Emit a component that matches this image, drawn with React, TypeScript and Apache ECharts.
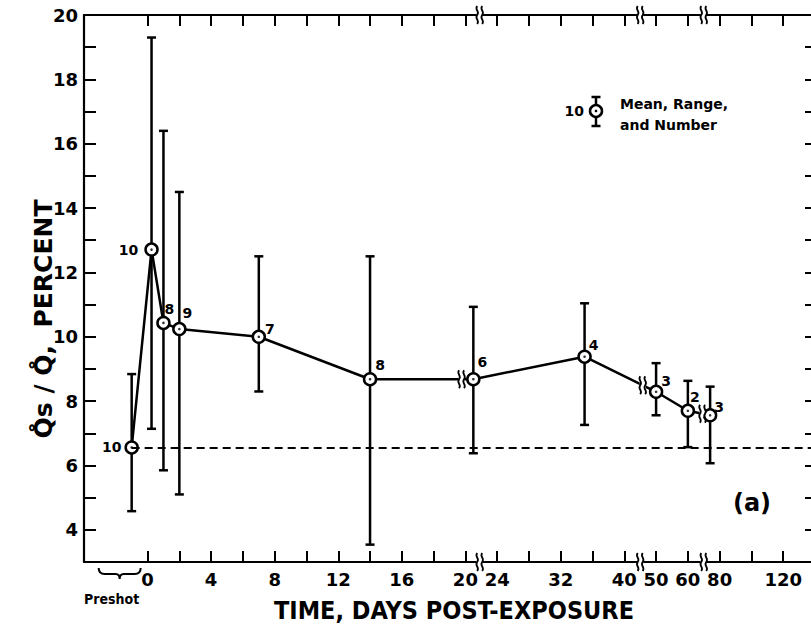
import React, { useEffect, useRef } from "react";
import * as echarts from "echarts";

// ---- data ----
const days = [-1, 0.25, 1, 2, 7, 14, 21, 35, 50, 60, 74];
const means = [6.56, 12.71, 10.43, 10.24, 10.0, 8.68, 8.68, 9.38, 8.29, 7.7, 7.56];
const maxs = [8.84, 19.3, 16.4, 14.5, 12.5, 12.5, 10.93, 11.04, 9.18, 8.63, 8.45];
const mins = [4.58, 7.14, 5.85, 5.1, 8.3, 3.54, 6.38, 7.26, 7.56, 6.57, 6.07];
const counts = [10, 10, 8, 9, 7, 8, 6, 4, 3, 2, 3];

// broken time axis: day knots and their positions in "slots"
const DAY_KNOTS = [0, 20, 24, 40, 50, 60, 80, 120];
const SLOT_KNOTS = [0, 10, 11, 15, 16, 17, 18, 20];
const TICK_DAYS = [0, 2, 4, 6, 8, 10, 12, 14, 16, 18, 20, 24, 28, 32, 36, 40, 50, 60, 80, 100, 120];
const LABEL_DAYS = [0, 4, 8, 12, 16, 20, 24, 32, 40, 50, 60, 80, 120];
const Y_TICKS = [4, 5, 6, 7, 8, 9, 10, 11, 12, 13, 14, 15, 16, 17, 18, 19, 20];
const Y_LABELS = [4, 6, 8, 10, 12, 14, 16, 18, 20];

// label styling per point (offsets only)
const LABEL_OFFSETS: number[][] = [[0, 0], [0, 0], [6, 0], [8, -2], [11, 6], [10, 0], [9, -3], [9, 3], [10, 3], [7, 0], [9, 6]];

const X_MIN = -2;
const X_MAX = 21;
const Y_MIN = 3;
const Y_MAX = 20;

const AXIS_BREAK_SLOTS = [10.45, 15.5, 17.5];
const LINE_BREAK_SLOTS = [9.88, 15.58, 17.46];

function toSlot(d: number): number {
  if (d <= 0) return d * 0.5;
  for (let i = 1; i < DAY_KNOTS.length; i++) {
    if (d <= DAY_KNOTS[i]) {
      const t = (d - DAY_KNOTS[i - 1]) / (DAY_KNOTS[i] - DAY_KNOTS[i - 1]);
      return SLOT_KNOTS[i - 1] + t * (SLOT_KNOTS[i] - SLOT_KNOTS[i - 1]);
    }
  }
  const n = DAY_KNOTS.length - 1;
  const k = (SLOT_KNOTS[n] - SLOT_KNOTS[n - 1]) / (DAY_KNOTS[n] - DAY_KNOTS[n - 1]);
  return SLOT_KNOTS[n] + (d - DAY_KNOTS[n]) * k;
}

const FONT = "'DejaVu Sans', sans-serif";
const FONT_C = "'DejaVu Sans Condensed', 'DejaVu Sans', sans-serif";

const BRK_PATH = "M2,0 C-1,4 5,5 2,9 C-1,13 5,14 2,18 M7,0 C4,4 10,5 7,9 C4,13 10,14 7,18";
const BRACE_PATH = "M0,0 Q0,6 6,6 L17,6 Q21,6 21,11 Q21,6 25,6 L36,6 Q42,6 42,0";

export default function App() {
  const ref = useRef<HTMLDivElement>(null);
  useEffect(() => {
    const el = ref.current;
    if (!el) return;
    echarts.graphic.registerShape("brk", echarts.graphic.extendPath(BRK_PATH, {}));
    echarts.graphic.registerShape("brace", echarts.graphic.extendPath(BRACE_PATH, {}));
    const chart = echarts.init(el, null, { renderer: "svg" });

    const slots = days.map(toSlot);
    const tickSlots = TICK_DAYS.map(toSlot);
    const labelSlots = LABEL_DAYS.map(toSlot);
    const fmtX = (v: number) => {
      const i = labelSlots.findIndex((s) => Math.abs(s - v) < 1e-6);
      return i >= 0 ? String(LABEL_DAYS[i]) : "";
    };

    const axisLine = { show: true, onZero: false, lineStyle: { color: "#000", width: 2.2 } };
    const tickStyle = { color: "#000", width: 2 };

    const option: any = {
      animation: false,
      backgroundColor: "#fff",
      grid: { left: 84, right: 5, top: 15, bottom: 70, containLabel: false },
      xAxis: [
        {
          type: "value", min: X_MIN, max: X_MAX, position: "bottom",
          axisLine,
          axisTick: { show: true, inside: true, length: 11, customValues: tickSlots, lineStyle: tickStyle },
          axisLabel: {
            show: true, customValues: labelSlots, formatter: fmtX, margin: 8,
            color: "#000", fontFamily: FONT, fontWeight: "bold", fontSize: 18,
          },
          splitLine: { show: false },
        },
        {
          type: "value", min: X_MIN, max: X_MAX, position: "top",
          axisLine,
          axisTick: { show: true, inside: true, length: 11, customValues: tickSlots, lineStyle: tickStyle },
          axisLabel: { show: false },
          splitLine: { show: false },
        },
      ],
      yAxis: [
        {
          type: "value", min: Y_MIN, max: Y_MAX, position: "left",
          axisLine,
          axisTick: { show: true, inside: true, length: 12, customValues: Y_TICKS, lineStyle: tickStyle },
          axisLabel: {
            show: true, customValues: Y_LABELS, margin: 6,
            color: "#000", fontFamily: FONT, fontWeight: "bold", fontSize: 18,
          },
          splitLine: { show: false },
        },
        {
          type: "value", min: Y_MIN, max: Y_MAX, position: "right",
          axisLine,
          axisTick: { show: true, inside: true, length: 10, customValues: Y_TICKS, lineStyle: tickStyle },
          axisLabel: { show: false },
          splitLine: { show: false },
        },
      ],
      series: [
        {
          type: "custom",
          z: 1,
          data: days.map((_, i) => [slots[i], mins[i], maxs[i]]),
          encode: { x: 0, y: [1, 2] },
          renderItem: (params: any, api: any) => {
            const x = api.value(0);
            const lo = api.coord([x, api.value(1)]);
            const hi = api.coord([x, api.value(2)]);
            const c = 4.5;
            const st = { stroke: "#000", lineWidth: 2.5 };
            return {
              type: "group",
              children: [
                { type: "line", shape: { x1: lo[0], y1: lo[1], x2: hi[0], y2: hi[1] }, style: st },
                { type: "line", shape: { x1: lo[0] - c, y1: lo[1], x2: lo[0] + c, y2: lo[1] }, style: st },
                { type: "line", shape: { x1: hi[0] - c, y1: hi[1], x2: hi[0] + c, y2: hi[1] }, style: st },
              ],
            };
          },
        },
        {
          type: "line",
          z: 2,
          symbol: "none",
          data: days.map((_, i) => [slots[i], means[i]]),
          lineStyle: { color: "#000", width: 2.5 },
          markLine: {
            silent: true,
            symbol: ["none", "none"],
            label: { show: false },
            lineStyle: { color: "#000", width: 2, type: [8, 5] },
            data: [[{ coord: [slots[0], means[0]] }, { coord: [X_MAX, means[0]] }]],
          },
        },
        {
          type: "scatter",
          z: 3,
          symbol: "circle",
          symbolSize: 12,
          itemStyle: { color: "#fff", borderColor: "#000", borderWidth: 2.5, opacity: 1 },
          data: days.map((_, i) => ({
            value: [slots[i], means[i]],
            label: i < 2
              ? { show: true, position: "left", distance: i === 0 ? 3 : 6 }
              : { show: true, position: "top", distance: 0, offset: LABEL_OFFSETS[i] },
          })),
          label: {
            show: true,
            formatter: (p: any) => String(counts[p.dataIndex]),
            color: "#000", fontFamily: FONT, fontWeight: "bold", fontSize: 14,
          },
        },
        {
          type: "scatter",
          z: 4,
          symbol: "circle",
          symbolSize: 2.6,
          itemStyle: { color: "#000" },
          data: days.map((_, i) => [slots[i], means[i]]),
        },
      ],
    };
    chart.setOption(option);

    const px = (s: number, v: number) => chart.convertToPixel({ gridIndex: 0 }, [s, v]) as number[];
    const yTop = px(0, Y_MAX)[1];
    const yBot = px(0, Y_MIN)[1];
    const graphics: any[] = [];
    const brk = (x: number, y: number) => {
      graphics.push({ type: "rect", z: 100, shape: { x: x - 3, y: y - 3, width: 6, height: 6 }, style: { fill: "#fff" } });
      graphics.push({ type: "brk", z: 101, x: x - 4.5, y: y - 9, style: { stroke: "#000", fill: "none", lineWidth: 1.8 } });
    };
    AXIS_BREAK_SLOTS.forEach((s) => {
      const x = px(s, Y_MAX)[0];
      brk(x, yTop);
      brk(x, yBot);
    });
    const interp = (s: number) => {
      for (let i = 1; i < slots.length; i++) {
        if (s <= slots[i]) {
          const t = (s - slots[i - 1]) / (slots[i] - slots[i - 1]);
          return means[i - 1] + t * (means[i] - means[i - 1]);
        }
      }
      return means[means.length - 1];
    };
    LINE_BREAK_SLOTS.forEach((s) => {
      const p = px(s, interp(s));
      brk(p[0], p[1]);
    });

    // preshot brace + label
    const p0 = px(toSlot(-1), Y_MIN);
    graphics.push({ type: "brace", z: 100, x: p0[0] - 33, y: yBot + 6, style: { stroke: "#000", fill: "none", lineWidth: 2 } });
    graphics.push({
      type: "text", z: 100, x: p0[0] - 20, y: yBot + 37,
      style: { text: "Preshot", fill: "#000", font: `bold 14px ${FONT_C}`, textAlign: "center", textVerticalAlign: "middle" },
    });

    // axis titles
    graphics.push({
      type: "text", z: 100, x: 454, y: 610,
      style: { text: "TIME, DAYS POST-EXPOSURE", fill: "#000", font: `bold 25px ${FONT_C}`, textAlign: "center", textVerticalAlign: "middle" },
    });
    graphics.push({
      type: "text", z: 100, x: 43, y: 319, rotation: Math.PI / 2,
      style: {
        text: "Q\u030As / Q\u030A,  PERCENT",
        fill: "#000", font: `bold 25px ${FONT}`, textAlign: "center", textVerticalAlign: "middle",
      },
    });

    // legend
    const lx = 596, ly = 111;
    graphics.push({ type: "line", z: 100, shape: { x1: lx, y1: 97, x2: lx, y2: 126 }, style: { stroke: "#000", lineWidth: 2.5 } });
    graphics.push({ type: "line", z: 100, shape: { x1: lx - 4.5, y1: 97, x2: lx + 4.5, y2: 97 }, style: { stroke: "#000", lineWidth: 2.5 } });
    graphics.push({ type: "line", z: 100, shape: { x1: lx - 4.5, y1: 126, x2: lx + 4.5, y2: 126 }, style: { stroke: "#000", lineWidth: 2.5 } });
    graphics.push({ type: "circle", z: 101, shape: { cx: lx, cy: ly, r: 6 }, style: { fill: "#fff", stroke: "#000", lineWidth: 2.5 } });
    graphics.push({ type: "circle", z: 102, shape: { cx: lx, cy: ly, r: 1.3 }, style: { fill: "#000" } });
    graphics.push({
      type: "text", z: 100, x: 584, y: ly,
      style: { text: "10", fill: "#000", font: `bold 14px ${FONT}`, textAlign: "right", textVerticalAlign: "middle" },
    });
    graphics.push({
      type: "text", z: 100, x: 620, y: 104,
      style: { text: "Mean, Range,", fill: "#000", font: `bold 14px ${FONT}`, textAlign: "left", textVerticalAlign: "middle" },
    });
    graphics.push({
      type: "text", z: 100, x: 620, y: 125,
      style: { text: "and Number", fill: "#000", font: `bold 14px ${FONT}`, textAlign: "left", textVerticalAlign: "middle" },
    });
    graphics.push({
      type: "text", z: 100, x: 752, y: 503,
      style: { text: "(a)", fill: "#000", font: `bold 24px ${FONT}`, textAlign: "center", textVerticalAlign: "middle" },
    });

    chart.setOption({ graphic: graphics });
    return () => chart.dispose();
  }, []);
  return <div ref={ref} style={{ position: "fixed", left: 0, top: 0, width: 820, height: 632 }} />;
}
